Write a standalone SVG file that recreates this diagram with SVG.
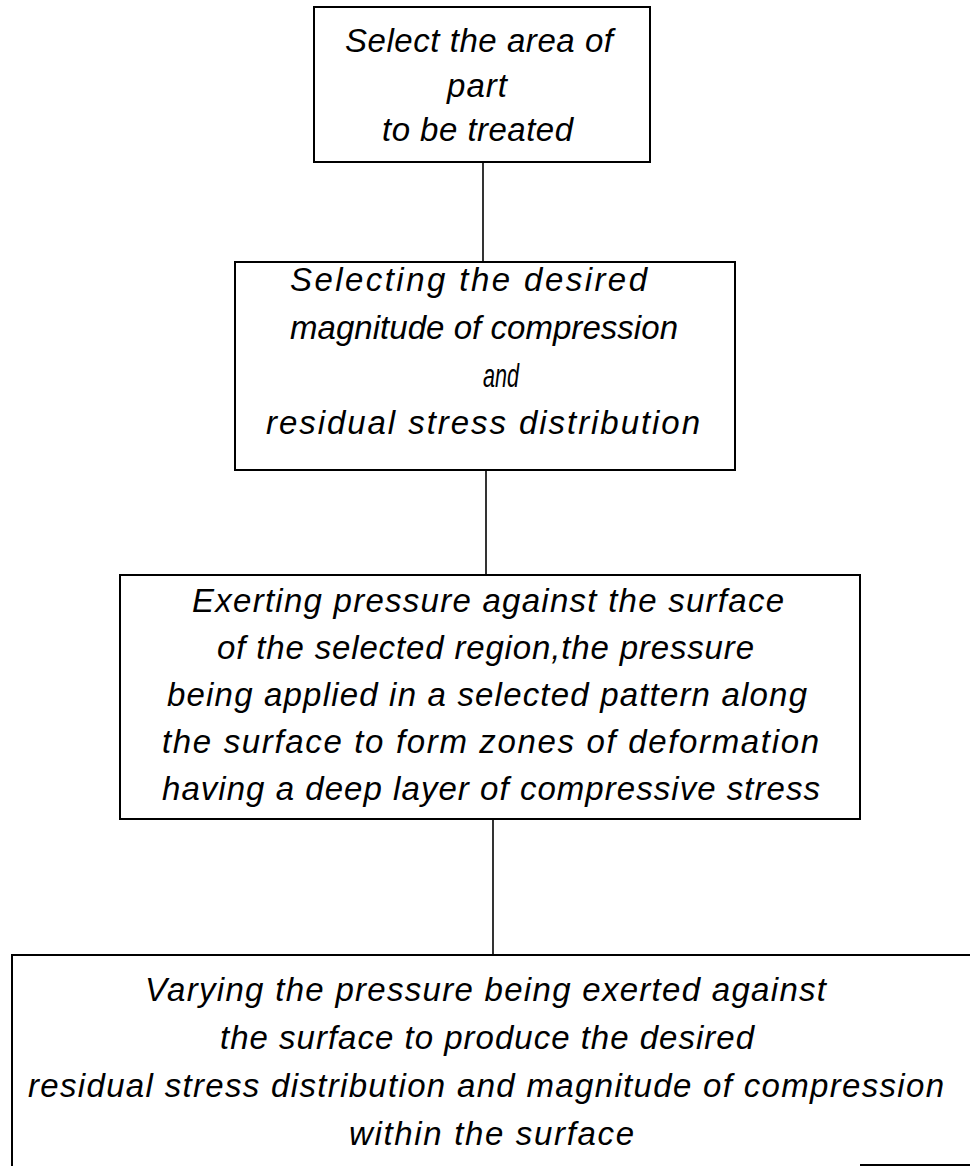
<svg xmlns="http://www.w3.org/2000/svg" width="970" height="1166" viewBox="0 0 970 1166">
<style>
  .box{fill:none;stroke:#000;stroke-width:2}
  .conn{stroke:#000;stroke-width:1.6;fill:none}
  text{font-family:"Liberation Sans","DejaVu Sans",sans-serif;font-style:italic;font-size:33px;fill:#000}
</style>
<rect width="970" height="1166" fill="#fff"/>
<g id="connectors">
  <line class="conn" x1="483" y1="162" x2="483" y2="262"/>
  <line class="conn" x1="486" y1="470" x2="486" y2="575"/>
  <line class="conn" x1="493" y1="819" x2="493" y2="955"/>
</g>
<g id="node1">
  <rect class="box" x="314" y="7" width="336" height="155"/>
  <text x="345" y="52" textLength="268" lengthAdjust="spacing">Select the area of</text>
  <text x="447" y="97" textLength="60" lengthAdjust="spacing">part</text>
  <text x="382" y="141" textLength="191" lengthAdjust="spacing">to be treated</text>
</g>
<g id="node2">
  <rect class="box" x="235" y="262" width="500" height="208"/>
  <text x="290" y="291" textLength="357" lengthAdjust="spacing">Selecting the desired</text>
  <text x="290" y="339" textLength="388" lengthAdjust="spacing">magnitude of compression</text>
  <text x="483" y="387" textLength="36" lengthAdjust="spacingAndGlyphs">and</text>
  <text x="266" y="434" textLength="434" lengthAdjust="spacing">residual stress distribution</text>
</g>
<g id="node3">
  <rect class="box" x="120" y="575" width="740" height="244"/>
  <text x="192" y="612" textLength="592" lengthAdjust="spacing">Exerting pressure against the surface</text>
  <text x="217" y="659" textLength="537" lengthAdjust="spacing">of the selected region,the pressure</text>
  <text x="167" y="706" textLength="640" lengthAdjust="spacing">being applied in a selected pattern along</text>
  <text x="162" y="753" textLength="657" lengthAdjust="spacing">the surface to form zones of deformation</text>
  <text x="162" y="800" textLength="658" lengthAdjust="spacing">having a deep layer of compressive stress</text>
</g>
<g id="node4">
  <path class="box" d="M12 1166 V955 H972"/>
  <line class="box" x1="860" y1="1165" x2="970" y2="1165"/>
  <text x="145" y="1001" textLength="681" lengthAdjust="spacing">Varying the pressure being exerted against</text>
  <text x="220" y="1049" textLength="534" lengthAdjust="spacing">the surface to produce the desired</text>
  <text x="28" y="1097" textLength="916" lengthAdjust="spacing">residual stress distribution and magnitude of compression</text>
  <text x="349" y="1145" textLength="285" lengthAdjust="spacing">within the surface</text>
</g>
</svg>
